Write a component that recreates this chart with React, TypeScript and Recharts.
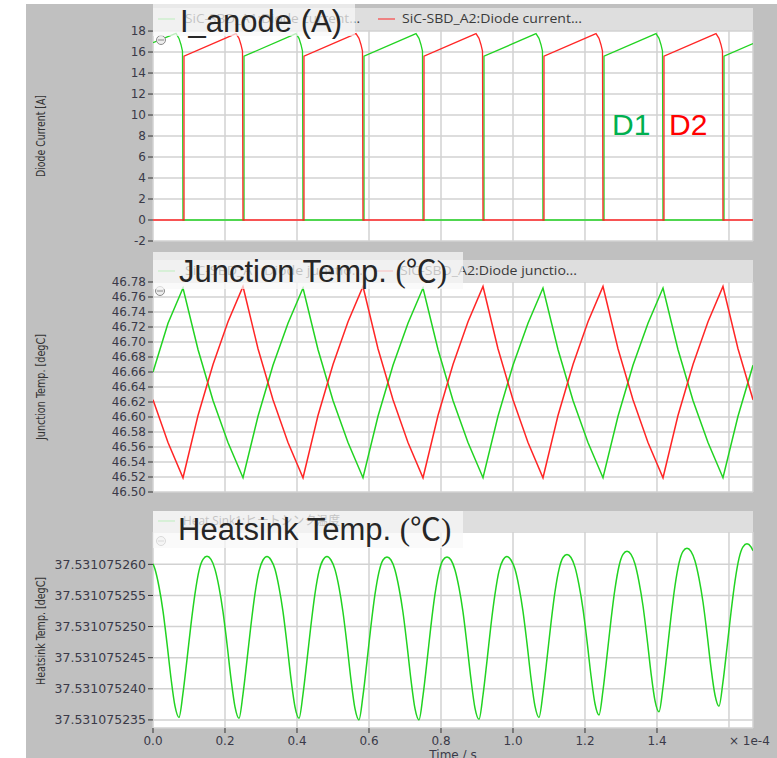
import React from 'react';
import { LineChart, Line, XAxis, YAxis, CartesianGrid } from 'recharts';

// ---------- shared axis ----------
const X_DOMAIN = [0, 1.6667]; // time, x 1e-4 s
const X_TICKS = [0, 0.2, 0.4, 0.6, 0.8, 1.0, 1.2, 1.4, 1.6];
const X_MULT_LABEL = '× 1e-4';
const X_TITLE = 'Time / s';

// ---------- panel 1: diode current ----------
const CURRENT_TICKS = [-2, 0, 2, 4, 6, 8, 10, 12, 14, 16, 18];
const CURRENT_DOMAIN = [-2, 18.1];
const D1_CURRENT_T = [
  0, 0.0639, 0.0722, 0.0778, 0.0819, 0.0833,
  0.2528, 0.2528, 0.3973, 0.4056, 0.4111, 0.4153, 0.4167,
  0.5861, 0.5861, 0.7306, 0.7389, 0.7444, 0.7486, 0.75,
  0.9194, 0.9194, 1.0639, 1.0722, 1.0778, 1.0819, 1.0833,
  1.2528, 1.2528, 1.3973, 1.4056, 1.4111, 1.4153, 1.4167,
  1.5861, 1.5861, 1.6667,
];
const D1_CURRENT_V = [
  16.9, 17.78, 17.3, 16.7, 16.1, 0,
  0, 15.6, 17.75, 17.3, 16.7, 16.1, 0,
  0, 15.6, 17.75, 17.3, 16.7, 16.1, 0,
  0, 15.6, 17.75, 17.3, 16.7, 16.1, 0,
  0, 15.6, 17.75, 17.3, 16.7, 16.1, 0,
  0, 15.6, 16.8,
];
const D2_CURRENT_T = [
  0, 0.0861, 0.0861, 0.2306, 0.2389, 0.2444, 0.2486, 0.25,
  0.4194, 0.4194, 0.5639, 0.5722, 0.5778, 0.5819, 0.5833,
  0.7528, 0.7528, 0.8973, 0.9056, 0.9111, 0.9153, 0.9167,
  1.0861, 1.0861, 1.2306, 1.2389, 1.2444, 1.2486, 1.25,
  1.4194, 1.4194, 1.5639, 1.5722, 1.5778, 1.5819, 1.5833,
  1.6667,
];
const D2_CURRENT_V = [
  0, 0, 15.6, 17.75, 17.3, 16.7, 16.1, 0,
  0, 15.6, 17.75, 17.3, 16.7, 16.1, 0,
  0, 15.6, 17.75, 17.3, 16.7, 16.1, 0,
  0, 15.6, 17.75, 17.3, 16.7, 16.1, 0,
  0, 15.6, 17.75, 17.3, 16.7, 16.1, 0,
  0,
];

// ---------- panel 2: junction temperature ----------
const JUNCTION_TICKS = [46.5, 46.52, 46.54, 46.56, 46.58, 46.6, 46.62, 46.64, 46.66, 46.68, 46.7, 46.72, 46.74, 46.76, 46.78];
const JUNCTION_DOMAIN = [46.5, 46.78];
const JUNCTION_T = [
  0, 0.0417, 0.0833, 0.125, 0.1667, 0.2083, 0.25, 0.2917, 0.3333, 0.375,
  0.4167, 0.4583, 0.5, 0.5417, 0.5833, 0.625, 0.6667, 0.7083, 0.75, 0.7917,
  0.8333, 0.875, 0.9167, 0.9583, 1.0, 1.0417, 1.0833, 1.125, 1.1667, 1.2083,
  1.25, 1.2917, 1.3333, 1.375, 1.4167, 1.4583, 1.5, 1.5417, 1.5833, 1.625, 1.6667,
];
const D1_JUNCTION = [
  46.66, 46.725,
  46.772, 46.69, 46.622, 46.566, 46.519, 46.601, 46.669, 46.725,
  46.772, 46.69, 46.622, 46.566, 46.519, 46.601, 46.669, 46.725,
  46.772, 46.69, 46.622, 46.566, 46.519, 46.601, 46.669, 46.725,
  46.772, 46.69, 46.622, 46.566, 46.519, 46.601, 46.669, 46.725,
  46.772, 46.69, 46.622, 46.566, 46.519, 46.601, 46.669,
];
const D2_JUNCTION = [
  46.623, 46.566,
  46.519, 46.602, 46.67, 46.727, 46.774, 46.691, 46.623, 46.566,
  46.519, 46.602, 46.67, 46.727, 46.774, 46.691, 46.623, 46.566,
  46.519, 46.602, 46.67, 46.727, 46.774, 46.691, 46.623, 46.566,
  46.519, 46.602, 46.67, 46.727, 46.774, 46.691, 46.623, 46.566,
  46.519, 46.602, 46.67, 46.727, 46.774, 46.691, 46.623,
];

// ---------- panel 3: heatsink temperature (offset in 1e-9 degC above base) ----------
const HEATSINK_BASE = 37.5310752;
const HEATSINK_TICKS = [35, 40, 45, 50, 55, 60];
const HEATSINK_DOMAIN = [33.7, 65.2];
const HEATSINK_T = [
  0, 0.0056, 0.0167, 0.0278, 0.0389, 0.05, 0.0611, 0.0722,
  0.0833, 0.0944, 0.1056, 0.1167, 0.1278, 0.1389, 0.15, 0.1611, 0.1722, 0.1833, 0.1944, 0.2056, 0.2167, 0.2278, 0.2389,
  0.25, 0.2611, 0.2722, 0.2833, 0.2944, 0.3056, 0.3167, 0.3278, 0.3389, 0.35, 0.3611, 0.3722, 0.3833, 0.3944, 0.4056,
  0.4167, 0.4278, 0.4389, 0.45, 0.4611, 0.4722, 0.4833, 0.4944, 0.5056, 0.5167, 0.5278, 0.5389, 0.55, 0.5611, 0.5722,
  0.5833, 0.5944, 0.6056, 0.6167, 0.6278, 0.6389, 0.65, 0.6611, 0.6722, 0.6833, 0.6944, 0.7056, 0.7167, 0.7278, 0.7389,
  0.75, 0.7611, 0.7722, 0.7833, 0.7944, 0.8056, 0.8167, 0.8278, 0.8389, 0.85, 0.8611, 0.8722, 0.8833, 0.8944, 0.9056,
  0.9167, 0.9278, 0.9389, 0.95, 0.9611, 0.9722, 0.9833, 0.9944, 1.0056, 1.0167, 1.0278, 1.0389, 1.05, 1.0611, 1.0722,
  1.0833, 1.0944, 1.1056, 1.1167, 1.1278, 1.1389, 1.15, 1.1611, 1.1722, 1.1833, 1.1944, 1.2056, 1.2167, 1.2278, 1.2389,
  1.25, 1.2611, 1.2722, 1.2833, 1.2944, 1.3056, 1.3167, 1.3278, 1.3389, 1.35, 1.3611, 1.3722, 1.3833, 1.3944, 1.4056,
  1.4167, 1.4278, 1.4389, 1.45, 1.4611, 1.4722, 1.4833, 1.4944, 1.5056, 1.5167, 1.5278, 1.5389, 1.55, 1.5611, 1.5722,
  1.5833, 1.5944, 1.6056, 1.6167, 1.6278, 1.6389, 1.65, 1.6611, 1.6667,
];
const HEATSINK_V = [
  60.1, 59.2, 56.4, 52.5, 47.3, 41.7, 37.2, 35.4,
  39.3, 44.7, 50.4, 55.3, 59.0, 60.8, 61.3, 60.8, 59.2, 56.35, 52.4, 47.2, 41.6, 37.1, 35.25,
  39.15, 44.6, 50.3, 55.3, 58.9, 60.7, 61.25, 60.7, 59.2, 56.3, 52.4, 47.2, 41.6, 37.1, 35.25,
  39.15, 44.6, 50.3, 55.3, 58.9, 60.7, 61.25, 60.7, 59.15, 56.3, 52.3, 47.1, 41.4, 36.8, 35.0,
  38.9, 44.4, 50.2, 55.2, 58.8, 60.7, 61.2, 60.7, 59.1, 56.2, 52.3, 47.05, 41.4, 36.8, 35.0,
  38.9, 44.4, 50.2, 55.2, 58.8, 60.7, 61.2, 60.7, 59.1, 56.25, 52.35, 47.1, 41.5, 36.9, 35.1,
  39.0, 44.5, 50.3, 55.2, 58.9, 60.7, 61.25, 60.7, 59.2, 56.35, 52.45, 47.3, 41.7, 37.2, 35.4,
  39.3, 44.8, 50.6, 55.6, 59.2, 61.1, 61.6, 61.1, 59.55, 56.7, 52.85, 47.7, 42.1, 37.6, 35.8,
  39.75, 45.3, 51.05, 56.05, 59.7, 61.6, 62.1, 61.6, 60.05, 57.2, 53.35, 48.2, 42.6, 38.1, 36.3,
  40.25, 45.8, 51.55, 56.55, 60.2, 62.1, 62.6, 62.1, 60.55, 57.75, 53.95, 48.9, 43.4, 39.0, 37.2,
  41.1, 46.6, 52.3, 57.3, 60.95, 62.8, 63.3, 62.8, 62.2,
];

// ---------- labels ----------
const TITLE_CURRENT = 'I_anode (A)';
const TITLE_JUNCTION = 'Junction Temp. ';
const TITLE_HEATSINK = 'Heatsink Temp. ';
const DEG_UNIT = '(℃)';
const Y_TITLE_CURRENT = 'Diode Current [A]';
const Y_TITLE_JUNCTION = 'Junction Temp. [degC]';
const Y_TITLE_HEATSINK = 'Heatsink Temp. [degC]';
const LEGEND_D1_CURRENT = 'SiC-SBD_A1:Diode current...';
const LEGEND_D2_CURRENT = 'SiC-SBD_A2:Diode current...';
const LEGEND_D1_JUNCTION = 'SiC-SBD_A1:Diode junctio...';
const LEGEND_D2_JUNCTION = 'SiC-SBD_A2:Diode junctio...';
const LEGEND_HEATSINK = 'Heat Sink1:ヒートシンク温度';

const GREEN = '#22d322';
const RED = '#ff2626';
const GRID = '#d2d2d2';
const TICK_COLOR = '#3a3a48';
const TICK_FONT = "'DejaVu Sans', Verdana, sans-serif";
const TITLE_FONT = "'Liberation Sans', Arial, sans-serif";
const NARROW_FONT = "'Liberation Sans Narrow', 'DejaVu Sans Condensed', 'Liberation Sans', sans-serif";
const LEGEND_FONT = "'Open Sans', 'DejaVu Sans', 'Noto Sans CJK JP', sans-serif";

const W = 777;
const H = 758;

const zip = (ts: number[], vs: number[]) => ts.map((t, i) => ({ t, v: vs[i] }));

const XTick = (props: any) => {
  const { x, y, payload } = props;
  const isMult = payload.value > 1.55;
  return (
    <g>
      {!isMult && <line x1={x} x2={x} y1={y - 8} y2={y - 3} stroke="#333" strokeWidth={1} />}
      <text
        x={x}
        y={y}
        dy="0.71em"
        textAnchor={isMult ? 'start' : 'middle'}
        fill={TICK_COLOR}
        fontSize={12}
        fontFamily={TICK_FONT}
      >
        {isMult ? X_MULT_LABEL : payload.value.toFixed(1)}
      </text>
    </g>
  );
};

type Series = { data: { t: number; v: number }[]; color: string; curve: any; width: number };

function Panel(props: {
  top: number;
  bottom: number;
  yDomain: number[];
  yTicks: number[];
  yFormat: (v: number) => string;
  tickFontSize: number;
  series: Series[];
  showX: boolean;
}) {
  const { top, bottom, yDomain, yTicks, yFormat, tickFontSize, series, showX } = props;
  return (
    <div style={{ position: 'absolute', left: 0, top: 0 }}>
      <LineChart
        width={W}
        height={H}
        margin={{ top, right: W - 753, bottom: showX ? 0 : H - bottom, left: 0 }}
      >
        <CartesianGrid fill="#ffffff" stroke={GRID} strokeWidth={1.5} />
        <XAxis
          type="number"
          dataKey="t"
          domain={X_DOMAIN}
          ticks={X_TICKS}
          allowDataOverflow
          hide={!showX}
          height={30}
          axisLine={false}
          tickLine={false}
          tickSize={5}
          tickMargin={3}
          tick={<XTick />}
          interval={0}
        />
        <YAxis
          type="number"
          domain={yDomain}
          ticks={yTicks}
          allowDataOverflow
          width={153}
          axisLine={false}
          tickLine={{ stroke: '#333', strokeWidth: 1 }}
          tickSize={5}
          tickMargin={2}
          interval={0}
          tickFormatter={yFormat}
          tick={{ fill: TICK_COLOR, fontSize: tickFontSize, fontFamily: TICK_FONT }}
        />
        {series.map((s, i) => (
          <Line
            key={i}
            data={s.data}
            dataKey="v"
            type={s.curve}
            stroke={s.color}
            strokeWidth={s.width}
            dot={false}
            activeDot={false}
            isAnimationActive={false}
          />
        ))}
      </LineChart>
    </div>
  );
}

const Icon = ({ x, y }: { x: number; y: number }) => (
  <g>
    <circle cx={x} cy={y} r={4.5} fill="#eeeeee" stroke="#8a8a8a" strokeWidth={1} />
    <line x1={x - 3} x2={x + 3} y1={y} y2={y} stroke="#8a8a8a" strokeWidth={1} />
  </g>
);

const AxisTitle = ({ cy, text, len }: { cy: number; text: string; len: number }) => (
  <text
    x={41}
    y={cy}
    transform={`rotate(-90 41 ${cy})`}
    textAnchor="middle"
    dominantBaseline="central"
    fontSize={11.5}
    fontFamily={NARROW_FONT}
    fill="#333"
    textLength={len}
    lengthAdjust="spacingAndGlyphs"
  >
    {text}
  </text>
);

const LegendText = ({ x, y, text, len }: { x: number; y: number; text: string; len: number }) => (
  <text x={x} y={y} fontSize={12.5} fontFamily={LEGEND_FONT} fill="#3a3a3a" textLength={len} lengthAdjust="spacingAndGlyphs">
    {text}
  </text>
);

const Title = ({ x, y, text }: { x: number; y: number; text: string }) => (
  <text x={x} y={y} fontSize={31} fontFamily={TITLE_FONT} fill="#262626">
    {text}
  </text>
);

export default function App() {
  const heatFmt = (v: number) => (HEATSINK_BASE + v * 1e-9).toFixed(9);
  return (
    <div style={{ position: 'fixed', left: 0, top: 0, width: W, height: H, background: '#ffffff', overflow: 'hidden' }}>
      <div style={{ position: 'absolute', left: 26, top: 4, width: W - 26, height: H - 4, background: '#c0c0c0' }} />
      <Panel
        top={30}
        bottom={241}
        yDomain={CURRENT_DOMAIN}
        yTicks={CURRENT_TICKS}
        yFormat={(v) => String(v)}
        tickFontSize={12}
        showX={false}
        series={[
          { data: zip(D1_CURRENT_T, D1_CURRENT_V), color: GREEN, curve: 'linear', width: 1.3 },
          { data: zip(D2_CURRENT_T, D2_CURRENT_V), color: RED, curve: 'linear', width: 1.3 },
        ]}
      />
      <Panel
        top={282}
        bottom={492}
        yDomain={JUNCTION_DOMAIN}
        yTicks={JUNCTION_TICKS}
        yFormat={(v) => v.toFixed(2)}
        tickFontSize={12}
        showX={false}
        series={[
          { data: zip(JUNCTION_T, D1_JUNCTION), color: GREEN, curve: 'linear', width: 1.5 },
          { data: zip(JUNCTION_T, D2_JUNCTION), color: RED, curve: 'linear', width: 1.5 },
        ]}
      />
      <Panel
        top={532}
        bottom={728}
        yDomain={HEATSINK_DOMAIN}
        yTicks={HEATSINK_TICKS}
        yFormat={heatFmt}
        tickFontSize={12.5}
        showX={true}
        series={[{ data: zip(HEATSINK_T, HEATSINK_V), color: GREEN, curve: 'monotone', width: 1.5 }]}
      />
      <svg width={W} height={H} style={{ position: 'absolute', left: 0, top: 0, pointerEvents: 'none' }}>
        {/* axis titles */}
        <AxisTitle cy={136} text={Y_TITLE_CURRENT} len={82} />
        <AxisTitle cy={387} text={Y_TITLE_JUNCTION} len={106} />
        <AxisTitle cy={631} text={Y_TITLE_HEATSINK} len={108} />
        <text x={453} y={759} textAnchor="middle" fontSize={12} fontFamily={TICK_FONT} fill={TICK_COLOR}>
          {X_TITLE}
        </text>

        {/* panel 1 legend + title */}
        <rect x={153} y={8} width={600} height={22} fill="#dedede" />
        <line x1={158} x2={175} y1={19} y2={19} stroke={GREEN} strokeWidth={1} />
        <LegendText x={185} y={23} text={LEGEND_D1_CURRENT} len={175} />
        <line x1={378} x2={395} y1={19} y2={19} stroke={RED} strokeWidth={1} />
        <LegendText x={402} y={23} text={LEGEND_D2_CURRENT} len={180} />
        <Icon x={161} y={40} />
        <rect x={153} y={4} width={202} height={32} fill="rgba(248,248,248,0.72)" />
        <Title x={180} y={32} text={TITLE_CURRENT} />

        {/* panel 2 legend + title */}
        <rect x={153} y={260} width={600} height={22} fill="#dedede" />
        <line x1={158} x2={175} y1={271} y2={271} stroke={GREEN} strokeWidth={1} />
        <LegendText x={185} y={275} text={LEGEND_D1_JUNCTION} len={178} />
        <line x1={377} x2={393} y1={271} y2={271} stroke={RED} strokeWidth={1} />
        <LegendText x={400} y={275} text={LEGEND_D2_JUNCTION} len={177} />
        <Icon x={160} y={291} />
        <rect x={153} y={252} width={310} height={37} fill="rgba(248,248,248,0.72)" />
        <text x={179} y={282} fontSize={31} fontFamily={TITLE_FONT} fill="#262626">
          {TITLE_JUNCTION}
          <tspan fontFamily="'Liberation Serif', 'Noto Sans CJK JP', serif">{DEG_UNIT}</tspan>
        </text>

        {/* panel 3 legend + title */}
        <rect x={153} y={511} width={600} height={21} fill="#dedede" />
        <line x1={158} x2={175} y1={521} y2={521} stroke={GREEN} strokeWidth={1} />
        <LegendText x={183} y={525} text={LEGEND_HEATSINK} len={157} />
        <Icon x={161} y={541} />
        <rect x={153} y={511} width={310} height={37} fill="rgba(248,248,248,0.72)" />
        <text x={178} y={540} fontSize={31} fontFamily={TITLE_FONT} fill="#262626">
          {TITLE_HEATSINK}
          <tspan fontFamily="'Liberation Serif', 'Noto Sans CJK JP', serif">{DEG_UNIT}</tspan>
        </text>

        {/* diode annotations */}
        <text x={612} y={135} fontSize={30} fontFamily={TITLE_FONT} fill="#00b050">D1</text>
        <text x={669} y={135} fontSize={30} fontFamily={TITLE_FONT} fill="#ff0000">D2</text>
      </svg>
    </div>
  );
}
